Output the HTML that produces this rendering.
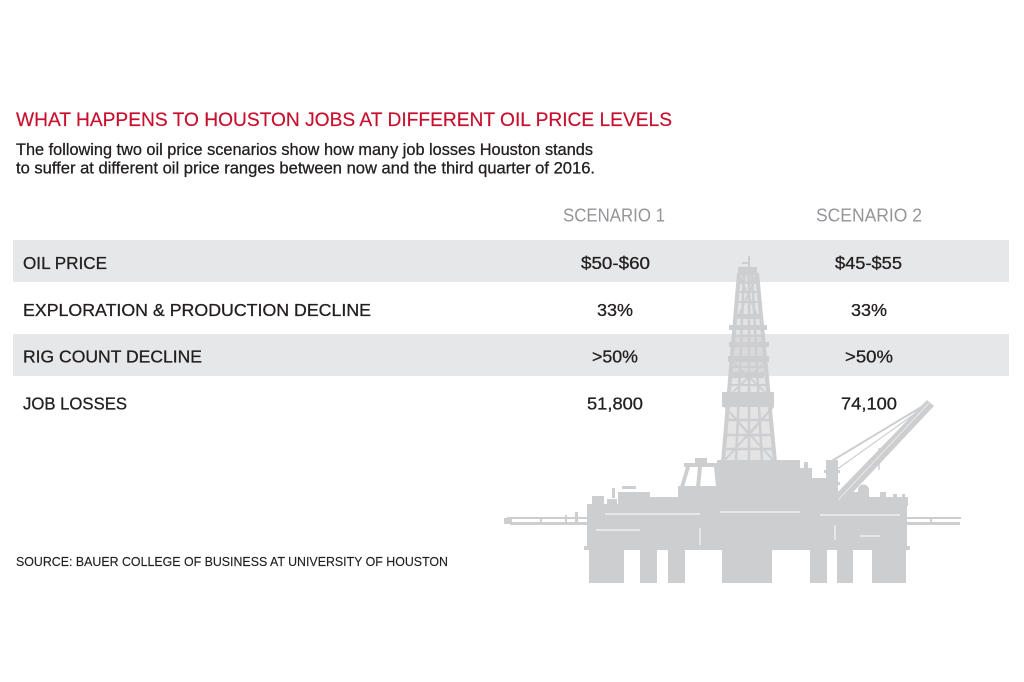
<!DOCTYPE html>
<html>
<head>
<meta charset="utf-8">
<style>
  html, body { margin:0; padding:0; background:#ffffff; }
  svg { display:block; }
  text { font-family: "Liberation Sans", "DejaVu Sans", sans-serif; }
</style>
</head>
<body>
<svg width="1024" height="682" viewBox="0 0 1024 682" xmlns="http://www.w3.org/2000/svg">
  <rect x="0" y="0" width="1024" height="682" fill="#ffffff"/>

  <!-- Gray bands -->
  <rect x="13" y="240" width="996" height="42" fill="#e6e7e8"/>
  <rect x="13" y="334" width="996" height="42" fill="#e6e7e8"/>

  <!-- Oil rig silhouette -->
  <g fill="#cdcecf" stroke="none">
    <!-- legs -->
    <rect x="589" y="549" width="35" height="34"/>
    <rect x="640" y="549" width="17" height="34"/>
    <rect x="668" y="549" width="17" height="34"/>
    <rect x="722" y="549" width="50" height="34"/>
    <rect x="810" y="549" width="17" height="34"/>
    <rect x="837" y="549" width="16" height="34"/>
    <rect x="872" y="549" width="34" height="34"/>
    <!-- hull -->
    <rect x="587" y="518" width="320" height="32"/>
    <rect x="584" y="546" width="326" height="4"/>
    <!-- left walkway -->
    <rect x="507" y="517" width="84" height="2"/>
    <rect x="510" y="522" width="81" height="3"/>
    <rect x="504" y="518" width="8" height="6"/>
    <rect x="540" y="517" width="2" height="7"/>
    <rect x="565" y="515" width="2" height="9"/>
    <rect x="575" y="512" width="3" height="12"/>
    <!-- right walkway -->
    <rect x="905" y="517" width="56" height="2"/>
    <rect x="905" y="522" width="55" height="3"/>
    <rect x="930" y="517" width="2" height="7"/>
    <!-- deck -->
    <rect x="587" y="504" width="320" height="16"/>
    <rect x="592" y="496" width="12" height="10"/>
    <rect x="607" y="499" width="10" height="7"/>
    <rect x="618" y="492" width="32" height="14"/>
    <rect x="612" y="488" width="3" height="10"/>
    <rect x="622" y="486" width="14" height="3"/>
    <rect x="650" y="497" width="30" height="9"/>
    <rect x="678" y="486" width="42" height="20"/>
    <!-- A-frame structure -->
    <rect x="684" y="463" width="36" height="4"/>
    <rect x="695" y="458" width="12" height="6"/>
    <polygon points="686,467 690,467 684,487 680,487"/>
    <polygon points="698,467 702,467 700,487 696,487"/>
    <polygon points="714,467 718,467 720,487 716,487"/>
    <!-- derrick base block -->
    <rect x="717" y="460" width="83" height="46"/>
    <rect x="800" y="468" width="12" height="38"/>
    <rect x="812" y="478" width="16" height="28"/>
    <rect x="804" y="462" width="4" height="8"/>
    <!-- crane pedestal -->
    <rect x="826" y="460" width="12" height="46"/>
    <rect x="824" y="470" width="16" height="3"/>
    <rect x="824" y="482" width="16" height="3"/>
    <rect x="838" y="492" width="22" height="14"/>
    <rect x="858" y="490" width="11" height="16"/>
    <circle cx="863.5" cy="490" r="5.5"/>
    <rect x="868" y="497" width="40" height="9"/>
    <rect x="880" y="492" width="6" height="6"/>
    <rect x="893" y="494" width="4" height="5"/>
    <rect x="902" y="494" width="3" height="12"/>
  </g>

  <!-- deck detail lines (white) -->
  <g stroke="#ffffff" stroke-width="1" fill="none">
    <line x1="605" y1="514" x2="700" y2="514"/>
    <line x1="720" y1="512" x2="800" y2="512"/>
    <line x1="820" y1="515" x2="900" y2="515"/>
    <line x1="596" y1="530" x2="640" y2="530"/>
    <line x1="860" y1="536" x2="880" y2="536"/>
    <line x1="700" y1="528" x2="700" y2="545"/>
    <line x1="835" y1="525" x2="835" y2="540"/>
  </g>

  <!-- Derrick -->
  <polygon points="723,462 739,273 757,273 775,462" fill="#cdcecf" opacity="0.55"/>
  <g fill="#cdcecf" stroke="none">
    <rect x="748" y="256" width="2" height="12"/>
    <rect x="742" y="262" width="8" height="2"/>
    <rect x="738" y="267" width="19" height="8"/>
    <rect x="735" y="314" width="28" height="5"/>
    <rect x="729" y="325" width="38" height="5"/>
    <rect x="729" y="342" width="40" height="5"/>
    <rect x="728" y="356" width="41" height="6"/>
    <rect x="722" y="392" width="52" height="15"/>
    <rect x="732" y="372" width="32" height="6"/>
  </g>
  <g stroke="#cdcecf" fill="none">
    <line x1="723" y1="462" x2="739" y2="273" stroke-width="4"/>
    <line x1="775" y1="462" x2="757" y2="273" stroke-width="4"/>
    <line x1="736" y1="462" x2="744" y2="273" stroke-width="2.5"/>
    <line x1="762" y1="462" x2="752" y2="273" stroke-width="2.5"/>
    <line x1="749" y1="462" x2="749" y2="273" stroke-width="2.5"/>
    <!-- horizontal braces -->
    <line x1="737" y1="283" x2="759" y2="283" stroke-width="2"/>
    <line x1="737" y1="292" x2="759" y2="292" stroke-width="2"/>
    <line x1="736" y1="302" x2="760" y2="302" stroke-width="2"/>
    <line x1="732" y1="336" x2="765" y2="336" stroke-width="2"/>
    <line x1="730" y1="367" x2="767" y2="367" stroke-width="2"/>
    <line x1="729" y1="385" x2="769" y2="385" stroke-width="2"/>
    <line x1="726" y1="420" x2="772" y2="420" stroke-width="2.5"/>
    <line x1="725" y1="435" x2="773" y2="435" stroke-width="2.5"/>
    <line x1="724" y1="449" x2="774" y2="449" stroke-width="2.5"/>
    <!-- diagonals -->
    <line x1="739" y1="275" x2="757" y2="315" stroke-width="1.8"/>
    <line x1="757" y1="275" x2="739" y2="315" stroke-width="1.8"/>
    <line x1="733" y1="362" x2="765" y2="392" stroke-width="1.8"/>
    <line x1="765" y1="362" x2="733" y2="392" stroke-width="1.8"/>
    <line x1="725" y1="407" x2="773" y2="460" stroke-width="2"/>
    <line x1="773" y1="407" x2="725" y2="460" stroke-width="2"/>
    <line x1="725" y1="407" x2="749" y2="435" stroke-width="1.5"/>
    <line x1="773" y1="407" x2="749" y2="435" stroke-width="1.5"/>
  </g>

  <!-- Crane -->
  <g fill="#cdcecf" stroke="none">
    <polygon points="833,497 842,504 934,406 927,400"/>
  </g>
  <g stroke="#cdcecf" fill="none">
    <line x1="830" y1="462" x2="928" y2="403" stroke-width="2"/>
    <line x1="836" y1="470" x2="920" y2="410" stroke-width="1.2"/>
    <line x1="879" y1="448" x2="879" y2="470" stroke-width="1.4"/>
  </g>
  <g stroke="#ffffff" stroke-width="0.8" fill="none" opacity="0.7">
    <line x1="838" y1="500" x2="929" y2="403"/>
  </g>

  <!-- Title -->
  <text x="16" y="126" font-size="19" fill="#c8102e" stroke="#c8102e" stroke-width="0.2" textLength="656" lengthAdjust="spacingAndGlyphs">WHAT HAPPENS TO HOUSTON JOBS AT DIFFERENT OIL PRICE LEVELS</text>

  <!-- Subtitle -->
  <g fill="#231f20" stroke="#231f20" stroke-width="0.3" font-size="16.5">
    <text x="16" y="155" textLength="577" lengthAdjust="spacingAndGlyphs">The following two oil price scenarios show how many job losses Houston stands</text>
    <text x="16" y="173.5" textLength="579" lengthAdjust="spacingAndGlyphs">to suffer at different oil price ranges between now and the third quarter of 2016.</text>
  </g>

  <!-- Scenario headers -->
  <text x="563" y="221.5" font-size="18" fill="#939598" textLength="102" lengthAdjust="spacingAndGlyphs">SCENARIO 1</text>
  <text x="816" y="221.5" font-size="18" fill="#939598" textLength="106" lengthAdjust="spacingAndGlyphs">SCENARIO 2</text>

  <!-- Row labels -->
  <g font-size="17.5" fill="#231f20" stroke="#231f20" stroke-width="0.3">
    <text x="23" y="269" textLength="84" lengthAdjust="spacingAndGlyphs">OIL PRICE</text>
    <text x="23" y="316" textLength="348" lengthAdjust="spacingAndGlyphs">EXPLORATION &amp; PRODUCTION DECLINE</text>
    <text x="23" y="362.5" textLength="179" lengthAdjust="spacingAndGlyphs">RIG COUNT DECLINE</text>
    <text x="23" y="409.5" textLength="104" lengthAdjust="spacingAndGlyphs">JOB LOSSES</text>
  </g>

  <!-- Values -->
  <g font-size="17.5" fill="#231f20" stroke="#231f20" stroke-width="0.3">
    <text x="581" y="269" textLength="69" lengthAdjust="spacingAndGlyphs">$50-$60</text>
    <text x="835" y="269" textLength="67" lengthAdjust="spacingAndGlyphs">$45-$55</text>
    <text x="597" y="316" textLength="36" lengthAdjust="spacingAndGlyphs">33%</text>
    <text x="851" y="316" textLength="36" lengthAdjust="spacingAndGlyphs">33%</text>
    <text x="592" y="362.5" textLength="46" lengthAdjust="spacingAndGlyphs">&gt;50%</text>
    <text x="845" y="362.5" textLength="48" lengthAdjust="spacingAndGlyphs">&gt;50%</text>
    <text x="587" y="409.5" textLength="56" lengthAdjust="spacingAndGlyphs">51,800</text>
    <text x="841" y="409.5" textLength="56" lengthAdjust="spacingAndGlyphs">74,100</text>
  </g>

  <!-- Source -->
  <text x="16" y="566" font-size="12.5" fill="#231f20" stroke="#231f20" stroke-width="0.15" textLength="432" lengthAdjust="spacingAndGlyphs">SOURCE: BAUER COLLEGE OF BUSINESS AT UNIVERSITY OF HOUSTON</text>
</svg>
</body>
</html>
